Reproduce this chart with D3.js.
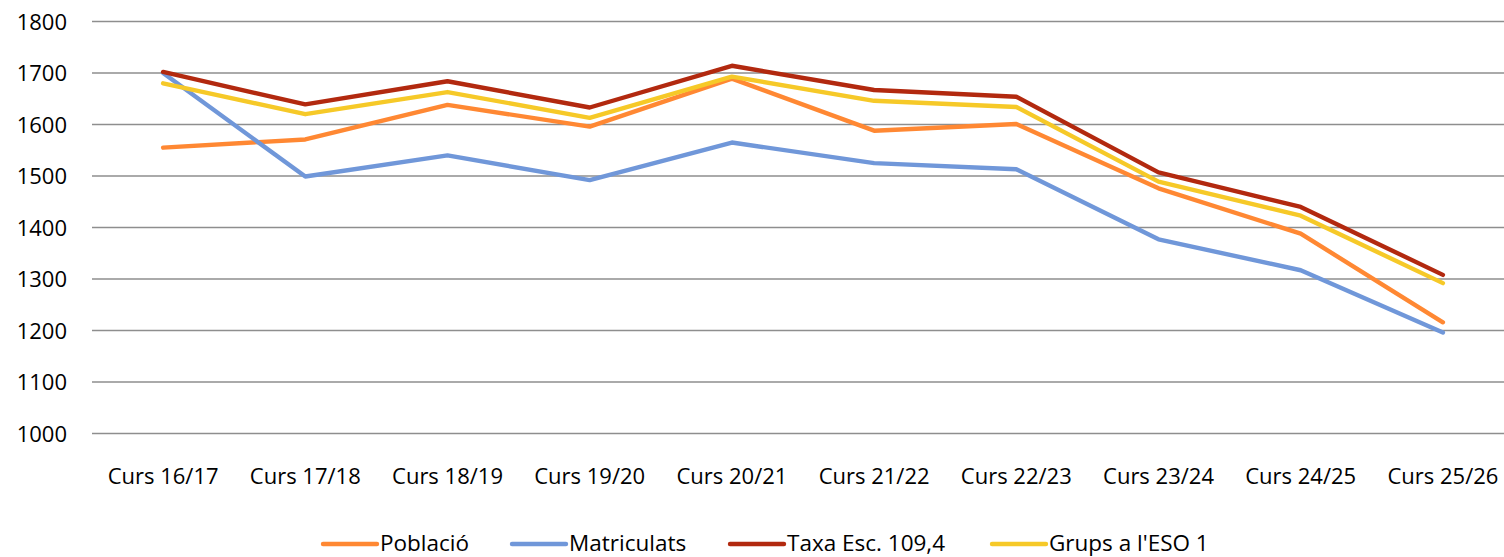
<!DOCTYPE html>
<html><head><meta charset="utf-8">
<script src="https://cdn.jsdelivr.net/npm/d3@7"></script>
<style>body{margin:0;background:#fff}svg{display:block}text{font-family:"Open Sans",sans-serif;fill:#000}</style>
</head><body><svg id="c" width="1504" height="557"></svg>
<script>
const categories = ["Curs 16/17","Curs 17/18","Curs 18/19","Curs 19/20","Curs 20/21","Curs 21/22","Curs 22/23","Curs 23/24","Curs 24/25","Curs 25/26"];
const poblacio    = [1555,1571,1638,1596,1689,1588,1601,1476,1388,1216];
const matriculats = [1700,1499,1540,1492,1565,1525,1513,1377,1317,1196];
const taxa        = [1702,1639,1684,1633,1714,1667,1654,1507,1440,1308];
const grups       = [1680,1620,1663,1613,1693,1646,1634,1489,1423,1292];
const yTicks = [1000,1100,1200,1300,1400,1500,1600,1700,1800];
const seriesNames = ["Població","Matriculats","Taxa Esc. 109,4","Grups a l'ESO 1"];
const seriesColors = ["#ff8833","#7097d9","#b2290f","#f6c928"];

const series = [poblacio, matriculats, taxa, grups].map((v,i)=>({name:seriesNames[i], color:seriesColors[i], values:v}));
const svg = d3.select("#c");
const x = d3.scaleBand().domain(categories).range([92,1514]);
const y = d3.scaleLinear().domain([1000,1800]).range([433.5,21.5]);

const grid = svg.append("g");
grid.selectAll("line").data(yTicks).join("line")
  .attr("x1",92).attr("x2",1504)
  .attr("y1",d=>y(d)).attr("y2",d=>y(d))
  .attr("stroke","#8e8e8e").attr("stroke-width",1.6);

const yAxis = svg.append("g").attr("transform","translate(67,0)")
  .call(d3.axisLeft(y).tickValues(yTicks).tickSize(0).tickPadding(0).tickFormat(d3.format("d")));
yAxis.select(".domain").remove();
yAxis.selectAll("text").attr("font-size",22).attr("font-family","Open Sans").attr("dy","0.36em").attr("fill","#000");

const xAxis = svg.append("g").attr("transform","translate(0,484)")
  .call(d3.axisBottom(x).tickSize(0).tickPadding(0));
xAxis.select(".domain").remove();
xAxis.selectAll("text").attr("font-size",22).attr("font-family","Open Sans").attr("dy","0").attr("fill","#000");

const line = d3.line().x((d,i)=>x(categories[i])+x.bandwidth()/2).y(d=>y(d));
svg.append("g").selectAll("path").data(series).join("path")
  .attr("d",d=>line(d.values)).attr("fill","none")
  .attr("stroke",d=>d.color).attr("stroke-width",4.4)
  .attr("stroke-linejoin","round").attr("stroke-linecap","round");

const legX = [323,512,730,992];
const leg = svg.append("g").selectAll("g").data(series).join("g")
  .attr("transform",(d,i)=>`translate(${legX[i]},544)`);
leg.append("line").attr("x1",0).attr("x2",54).attr("y1",0).attr("y2",0)
  .attr("stroke",d=>d.color).attr("stroke-width",4.4).attr("stroke-linecap","round");
leg.append("text").attr("x",57).attr("y",7).attr("font-size",22.5).text(d=>d.name);
</script></body></html>
